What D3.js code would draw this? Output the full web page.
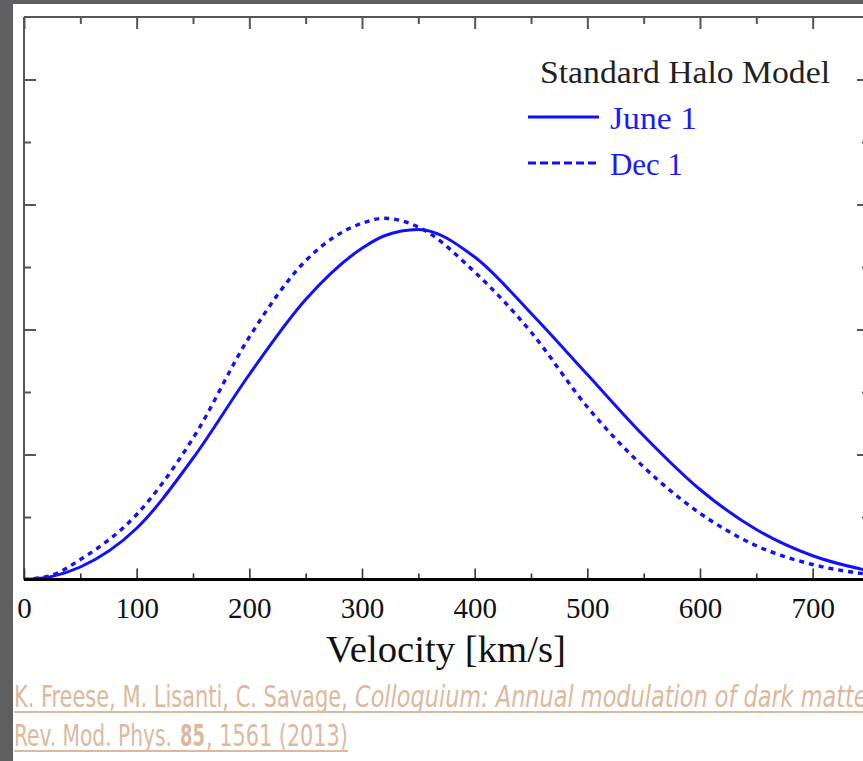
<!DOCTYPE html>
<html>
<head>
<meta charset="utf-8">
<script src="https://cdn.jsdelivr.net/npm/d3@7"></script>
<style>
  html, body { margin: 0; padding: 0; background: #fff; }
  svg { display: block; }
</style>
</head>
<body>
<svg id="chart" width="863" height="761"></svg>
<script>
// ---------- Data ----------
const velocity = [0, 25, 50, 100, 150, 200, 250, 300, 320, 350, 400, 450, 500, 550, 600, 650, 700, 750];
const june =     [0, 0.025, 0.10, 0.41, 0.97, 1.64, 2.24, 2.65, 2.75, 2.80, 2.58, 2.13, 1.64, 1.15, 0.72, 0.40, 0.19, 0.07];
const dec =      [0, 0.035, 0.16, 0.52, 1.13, 1.94, 2.55, 2.85, 2.89, 2.82, 2.46, 1.98, 1.38, 0.90, 0.53, 0.27, 0.12, 0.04];

const xMajor = [0, 100, 200, 300, 400, 500, 600, 700];
const xMinor = [50, 150, 250, 350, 450, 550, 650, 750];
const yMajor = [1, 2, 3, 4];
const yMinor = [0.5, 1.5, 2.5, 3.5];

const legendTitle = "Standard Halo Model";
const seriesNames = ["June 1", "Dec 1"];
const xTitle = "Velocity [km/s]";

// ---------- Setup ----------
const svg = d3.select("#chart");
const W = 863, H = 761;

// gray page frame
svg.append("rect").attr("width", W).attr("height", H).attr("fill", "#5f5e60");
svg.append("rect").attr("x", 13).attr("y", 4).attr("width", W - 13).attr("height", H - 4).attr("fill", "#fff");

const x = d3.scaleLinear().domain([0, 750]).range([24, 869]);
const y = d3.scaleLinear().domain([0, 4.5]).range([579.5, 17]);

const axisColor = "#555";

// ---------- Axes ----------
function styleAxis(g, color, width) {
  g.select(".domain").remove();
  g.selectAll(".tick line").attr("stroke", color).attr("stroke-width", width);
}

// top
svg.append("g").attr("transform", `translate(0,${y(4.5)})`)
  .call(d3.axisTop(x).tickValues(xMajor).tickSize(-12).tickFormat(""))
  .call(g => styleAxis(g, axisColor, 2));
svg.append("g").attr("transform", `translate(0,${y(4.5)})`)
  .call(d3.axisTop(x).tickValues(xMinor).tickSize(-7).tickFormat(""))
  .call(g => styleAxis(g, axisColor, 2));

// left
svg.append("g").attr("transform", `translate(${x(0)},0)`)
  .call(d3.axisLeft(y).tickValues(yMajor).tickSize(-12).tickFormat(""))
  .call(g => styleAxis(g, axisColor, 2));
svg.append("g").attr("transform", `translate(${x(0)},0)`)
  .call(d3.axisLeft(y).tickValues(yMinor).tickSize(-7).tickFormat(""))
  .call(g => styleAxis(g, axisColor, 2));

// right
svg.append("g").attr("transform", `translate(${x(750)},0)`)
  .call(d3.axisRight(y).tickValues(yMajor).tickSize(-12).tickFormat(""))
  .call(g => styleAxis(g, axisColor, 2));
svg.append("g").attr("transform", `translate(${x(750)},0)`)
  .call(d3.axisRight(y).tickValues(yMinor).tickSize(-7).tickFormat(""))
  .call(g => styleAxis(g, axisColor, 2));

// frame lines
svg.append("line").attr("x1", x(0)).attr("x2", x(750)).attr("y1", y(4.5)).attr("y2", y(4.5))
  .attr("stroke", axisColor).attr("stroke-width", 2);
svg.append("line").attr("x1", x(0)).attr("x2", x(0)).attr("y1", y(4.5)).attr("y2", y(0))
  .attr("stroke", axisColor).attr("stroke-width", 2);

// bottom
const bottom = svg.append("g").attr("transform", `translate(0,${y(0)})`)
  .call(d3.axisBottom(x).tickValues(xMajor).tickSize(-11).tickPadding(18))
  .call(g => styleAxis(g, "#333", 1.6));
bottom.selectAll(".tick text")
  .attr("fill", "#111")
  .attr("font-family", "'Liberation Serif', serif")
  .attr("font-size", 29);
svg.append("g").attr("transform", `translate(0,${y(0)})`)
  .call(d3.axisBottom(x).tickValues(xMinor).tickSize(-6).tickFormat(""))
  .call(g => styleAxis(g, "#333", 1.6));

svg.append("text")
  .attr("x", 446).attr("y", 662)
  .attr("text-anchor", "middle")
  .attr("font-family", "'Liberation Serif', serif")
  .attr("font-size", 38)
  .attr("fill", "#111")
  .attr("textLength", 240).attr("lengthAdjust", "spacingAndGlyphs")
  .text(xTitle);

// ---------- Curves ----------
svg.append("clipPath").attr("id", "plot-clip")
  .append("rect").attr("x", x(0)).attr("y", y(4.5)).attr("width", x(750) - x(0)).attr("height", y(0) - y(4.5));

const line = d3.line()
  .x(d => x(d[0]))
  .y(d => y(d[1]))
  .curve(d3.curveMonotoneX);

const curves = svg.append("g").attr("clip-path", "url(#plot-clip)");

curves.append("path")
  .datum(velocity.map((v, i) => [v, dec[i]]))
  .attr("d", line)
  .attr("fill", "none")
  .attr("stroke", "#1010ff")
  .attr("stroke-width", 3.4)
  .attr("stroke-dasharray", "5,5");

curves.append("path")
  .datum(velocity.map((v, i) => [v, june[i]]))
  .attr("d", line)
  .attr("fill", "none")
  .attr("stroke", "#1010ff")
  .attr("stroke-width", 3);

// bottom axis line on top of curves
svg.append("line").attr("x1", x(0)).attr("x2", x(750)).attr("y1", y(0)).attr("y2", y(0))
  .attr("stroke", "#000").attr("stroke-width", 3);

// ---------- Legend ----------
const lg = svg.append("g");
lg.append("text")
  .attr("x", 540).attr("y", 83)
  .attr("font-family", "'Liberation Serif', serif")
  .attr("font-size", 31)
  .attr("fill", "#222")
  .attr("textLength", 290).attr("lengthAdjust", "spacingAndGlyphs")
  .text(legendTitle);

const legendRows = [
  {name: seriesNames[0], y: 117, dash: null, tw: 87},
  {name: seriesNames[1], y: 163, dash: "8,4", tw: 73}
];
legendRows.forEach(r => {
  lg.append("line")
    .attr("x1", 528).attr("x2", 599).attr("y1", r.y).attr("y2", r.y)
    .attr("stroke", "#1010ff").attr("stroke-width", 3)
    .attr("stroke-dasharray", r.dash);
  lg.append("text")
    .attr("x", 610).attr("y", r.y + 12)
    .attr("font-family", "'Liberation Serif', serif")
    .attr("font-size", 31)
    .attr("fill", "#1a1aff")
    .attr("textLength", r.tw).attr("lengthAdjust", "spacingAndGlyphs")
    .text(r.name);
});

// ---------- Caption ----------
const capColor = "#dcb99d";
const cap = svg.append("g")
  .attr("font-family", "'DejaVu Sans Condensed', 'DejaVu Sans', sans-serif")
  .attr("font-stretch", "condensed")
  .attr("font-size", 31)
  .attr("fill", capColor);

const capPieces = [
  {t: "K. Freese, M. Lisanti, C. Savage,", x: 14, y: 707, w: 334},
  {t: "Colloquium: Annual modulation of dark matter", x: 355, y: 707, w: 522, italic: true},
  {t: "Rev. Mod. Phys.", x: 14, y: 746, w: 158},
  {t: "85", x: 180, y: 746, w: 25, bold: true},
  {t: ", 1561 (2013)", x: 206, y: 746, w: 142}
];
capPieces.forEach(p => {
  const t = cap.append("text")
    .attr("font-style", p.italic ? "italic" : null)
    .attr("font-weight", p.bold ? "bold" : null)
    .text(p.t);
  // squeeze horizontally to the measured width of the reference text
  const natural = t.node().getComputedTextLength();
  t.attr("transform", `translate(${p.x},${p.y}) scale(${p.w / natural},1)`);
});

// underlines
const underlines = [
  {x1: 14, x2: 863, y: 712},
  {x1: 14, x2: 348, y: 751}
];
underlines.forEach(u => {
  cap.append("line")
    .attr("x1", u.x1).attr("x2", u.x2).attr("y1", u.y).attr("y2", u.y)
    .attr("stroke", capColor).attr("stroke-width", 2);
});
</script>
</body>
</html>
